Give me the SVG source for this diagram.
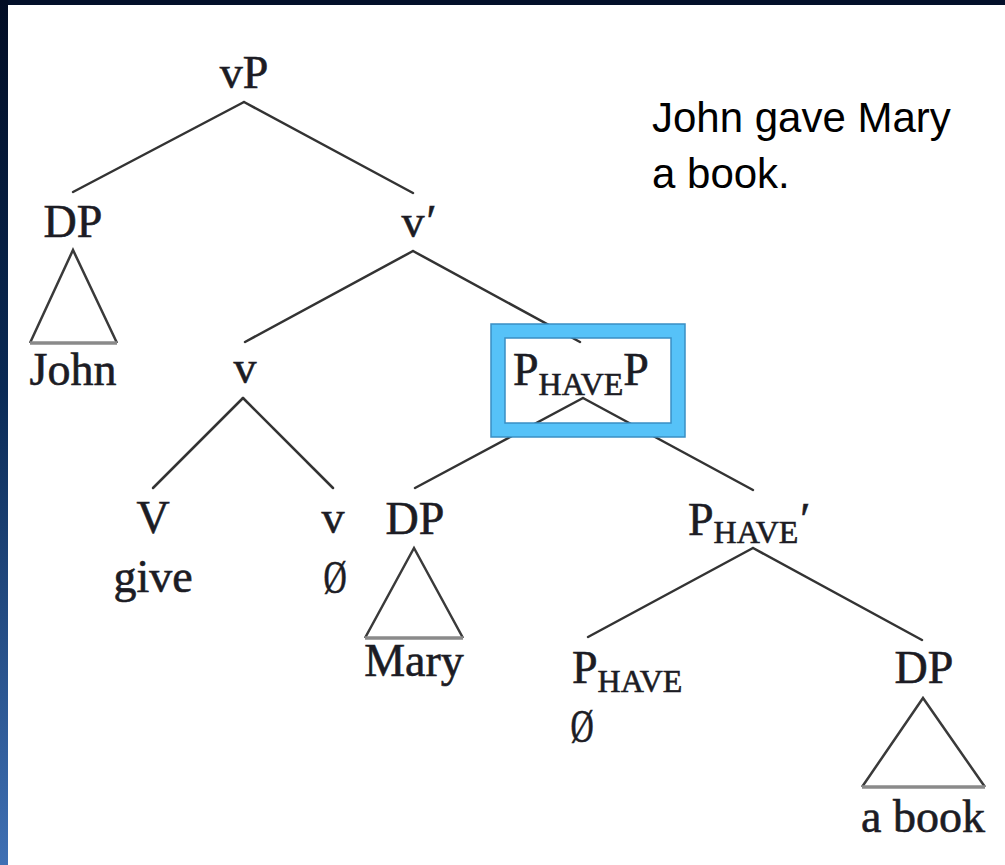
<svg xmlns="http://www.w3.org/2000/svg" width="1005" height="865" viewBox="0 0 1005 865">
  <defs>
    <linearGradient id="edge" x1="0" y1="0" x2="0" y2="1">
      <stop offset="0" stop-color="#020d24"/>
      <stop offset="0.45" stop-color="#0a2a55"/>
      <stop offset="1" stop-color="#3f70b4"/>
    </linearGradient>
    <style>
      .lbl { font-family: "Liberation Serif", "Times New Roman", serif; font-size: 46px; fill: #1c1c24; stroke: #1c1c24; stroke-width: 0.6px; }
      .sub { font-size: 32px; }
      .edge { stroke: #333; stroke-width: 2.5; fill: none; stroke-linecap: round; }
      .tri { stroke: #3a3a3a; stroke-width: 2.5; fill: none; stroke-linejoin: miter; }
      .tribase { stroke: #8a8a8a; stroke-width: 3.5; }
      .note { font-family: "Liberation Sans", Arial, sans-serif; font-size: 42px; fill: #000; }
    </style>
  </defs>

  <!-- slide background and white panel -->
  <rect x="0" y="0" width="1005" height="865" fill="#03102a"/>
  <rect x="0" y="0" width="8" height="865" fill="url(#edge)"/>
  <rect x="8" y="5" width="997" height="860" fill="#ffffff"/>

  <!-- tree branches -->
  <g id="connectors">
    <line class="edge" x1="244" y1="102" x2="73" y2="192"/>
    <line class="edge" x1="244" y1="102" x2="413" y2="193"/>
    <line class="edge" x1="413" y1="251" x2="245" y2="342"/>
    <line class="edge" x1="413" y1="251" x2="580" y2="342"/>
    <line class="edge" x1="243" y1="398" x2="153" y2="488"/>
    <line class="edge" x1="243" y1="398" x2="333" y2="488"/>
    <line class="edge" x1="583" y1="398" x2="415" y2="488"/>
    <line class="edge" x1="583" y1="398" x2="753" y2="490"/>
    <line class="edge" x1="753" y1="548" x2="588" y2="637"/>
    <line class="edge" x1="753" y1="548" x2="922" y2="640"/>
  </g>

  <g id="node-vP">
    <text class="lbl" x="244" y="88" text-anchor="middle">vP</text>
  </g>

  <g id="node-DP-john">
    <text class="lbl" x="73" y="237" text-anchor="middle">DP</text>
    <polyline class="tri" points="30,343 73,250 117,343"/>
    <line class="tribase" x1="30" y1="343" x2="117" y2="343"/>
    <text class="lbl" x="73" y="385" text-anchor="middle">John</text>
  </g>

  <g id="node-vbar">
    <text class="lbl" x="401.5" y="237">v<tspan dx="2">′</tspan></text>
  </g>

  <g id="node-v">
    <text class="lbl" x="245" y="383" text-anchor="middle">v</text>
  </g>

  <g id="node-PhaveP">
    <text class="lbl" x="513" y="385">P<tspan class="sub" dy="10">HAVE</tspan><tspan dy="-10">P</tspan></text>
    <rect x="498" y="331" width="180" height="99" fill="none" stroke="#56c2f8" stroke-width="14"/>
    <rect x="491" y="324" width="194" height="113" fill="none" stroke="#3a8fc4" stroke-width="1.5"/>
    <rect x="505" y="338" width="166" height="85" fill="none" stroke="#3a8fc4" stroke-width="1.5"/>
  </g>

  <g id="node-V">
    <text class="lbl" x="153" y="533" text-anchor="middle">V</text>
    <text class="lbl" x="153" y="592" text-anchor="middle">give</text>
  </g>

  <g id="node-v-null">
    <text class="lbl" x="333" y="533" text-anchor="middle">v</text>
    <text class="lbl" transform="translate(335 593) scale(0.7 1)" text-anchor="middle">Ø</text>
  </g>

  <g id="node-DP-mary">
    <text class="lbl" x="415" y="534" text-anchor="middle">DP</text>
    <polyline class="tri" points="365,638 414,548 463,638"/>
    <line class="tribase" x1="365" y1="638" x2="463" y2="638"/>
    <text class="lbl" x="414" y="676" text-anchor="middle">Mary</text>
  </g>

  <g id="node-Phave-bar">
    <text class="lbl" x="688" y="535">P<tspan class="sub" dy="8">HAVE</tspan><tspan dy="-8" dx="2">′</tspan></text>
  </g>

  <g id="node-Phave">
    <text class="lbl" x="572" y="683">P<tspan class="sub" dy="9">HAVE</tspan></text>
    <text class="lbl" transform="translate(582 742) scale(0.7 1)" text-anchor="middle">Ø</text>
  </g>

  <g id="node-DP-book">
    <text class="lbl" x="924" y="683" text-anchor="middle">DP</text>
    <polyline class="tri" points="862,787 923,698 985,787"/>
    <line class="tribase" x1="862" y1="787" x2="985" y2="787"/>
    <text class="lbl" x="923" y="832" text-anchor="middle">a book</text>
  </g>

  <g id="caption">
    <text class="note" x="652" y="132">John gave Mary</text>
    <text class="note" x="652" y="188">a book.</text>
  </g>
</svg>
